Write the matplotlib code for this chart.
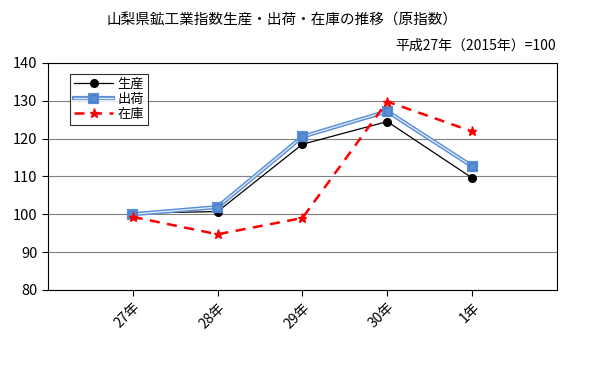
import matplotlib
matplotlib.use("Agg")
import matplotlib.pyplot as plt
import matplotlib.patheffects as pe

plt.rcParams['font.family'] = ['Noto Sans CJK JP', 'DejaVu Sans']

years = ['27年', '28年', '29年', '30年', '1年']
seisan = [100.3, 100.7, 118.5, 124.5, 109.6]
shukka = [100.0, 101.9, 120.5, 127.2, 112.7]
zaiko = [99.3, 94.7, 99.0, 129.8, 121.9]

fig = plt.figure(figsize=(6.14, 3.66), dpi=100)
ax = fig.add_axes([0.078, 0.208, 0.829, 0.62])

x = list(range(len(years)))
ax.plot(x, seisan, color='black', lw=0.9, marker='o', ms=5.5, label='生産', zorder=3)
# 出荷: double line (blue edges, light centre)
ax.plot(x, shukka, color='#e4eefc', lw=0.9, marker='s', ms=5, mfc='#5b8fd6', mec='#4a7fc6',
        label='出荷', zorder=4,
        path_effects=[pe.Stroke(linewidth=3.0, foreground='#5b8fd6'), pe.Normal()])
ax.plot(x, zaiko, color='red', lw=1.8, ls=(0, (4, 3)), marker='*', ms=6.5, label='在庫', zorder=5)

ax.set_xlim(-1, 5)
ax.set_ylim(80, 140)
ax.set_yticks(range(80, 141, 10))
ax.set_xticks(x)
ax.set_xticklabels(years, rotation=45, ha='right', rotation_mode='anchor', fontsize=10)
ax.tick_params(axis='y', labelsize=10.5, direction='out', length=4)
ax.tick_params(axis='x', direction='out', length=4)
ax.yaxis.grid(True, color='#808080', lw=0.8)
ax.set_axisbelow(True)
for s in ax.spines.values():
    s.set_linewidth(0.8)

leg = ax.legend(loc='upper left', bbox_to_anchor=(0.03, 0.98), fontsize=9.5, frameon=True,
                fancybox=False, edgecolor='black', handlelength=3, borderpad=0.3,
                labelspacing=0.15, handletextpad=0.3)
leg.get_frame().set_linewidth(0.8)

fig.text(0.46, 0.945, '山梨県鉱工業指数生産・出荷・在庫の推移（原指数）', ha='center', va='center', fontsize=10.5)
fig.text(0.905, 0.875, '平成27年（2015年）=100', ha='right', va='center', fontsize=10)

fig.savefig('out.png', dpi=100)
